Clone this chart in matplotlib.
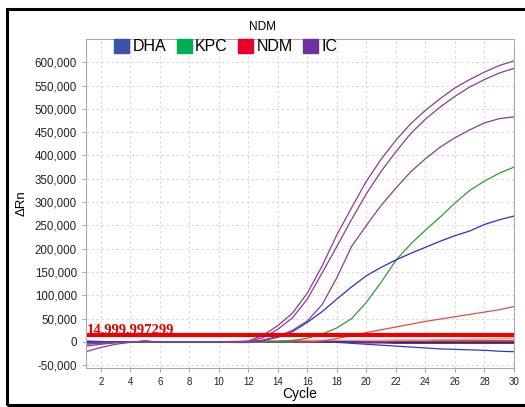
import matplotlib.pyplot as plt
from matplotlib.patches import Patch, Rectangle
from matplotlib.ticker import FuncFormatter
import numpy as np

plt.rcParams['font.family'] = ['Liberation Sans', 'DejaVu Sans']

cycles = np.arange(1, 31)

# IC curves (purple)
ic_1 = [-21000, -12000, -5000, -1000, 1000, 0, 0, 0, 0, 0, 0, 2000, 14000, 35000, 62000,
        105000, 163000, 230000, 288000, 345000, 392000, 433000, 468000, 497000, 522000,
        545000, 563000, 579000, 593000, 603000]
ic_2 = [-9000, -5000, -2000, 0, 1000, 0, 0, 0, 0, 0, 0, 1000, 9000, 27000, 52000,
        92000, 148000, 205000, 263000, 318000, 366000, 408000, 447000, 478000, 504000,
        527000, 547000, 563000, 577000, 587000]
ic_3 = [-5000, -3000, -1000, 0, 0, 0, 0, 0, 0, 0, 0, 0, 4000, 12000, 25000,
        45000, 80000, 138000, 205000, 250000, 293000, 330000, 365000, 393000, 418000,
        438000, 455000, 470000, 479000, 483000]
ic_4 = [-3000, -1000, 0, 0, 1000, 0, 0, 0, 0, 0, -1000, -1000, 0, 0, 0,
        0, 0, 0, -1000, -2000, -2000, -3000, -3000, -3000, -3000,
        -3000, -3000, -3000, -3000, -3000]

# DHA curves (blue)
dha_1 = [0, 0, 0, 0, 1000, 0, 0, 0, 0, 0, 0, 0, 3000, 10000, 22000,
         42000, 65000, 92000, 118000, 142000, 160000, 176000, 190000, 203000, 216000,
         228000, 238000, 252000, 262000, 270000]
dha_2 = [2000, 1000, 0, 0, 1000, 0, 0, 0, 0, 0, 0, 0, 0, 0, 0,
         0, 0, -1000, -3000, -5000, -7000, -9000, -11000, -13000, -15000,
         -16000, -17000, -18000, -20000, -21000]
dha_3 = [0, 0, 0, 0, 1000, 0, 0, 0, 0, 0, 0, 0, 0, 0, 0,
         0, 0, 0, 0, -1000, -1000, -1000, -1000, -1000, -1000,
         -1000, -1000, -1000, -1000, -1000]

# KPC curves (green)
kpc_1 = [0, 0, 0, 0, 1000, 0, 0, 0, 0, 0, 0, 0, 0, 1000, 3000,
         8000, 17000, 30000, 50000, 85000, 128000, 175000, 210000, 240000, 268000,
         298000, 325000, 345000, 362000, 375000]
kpc_2 = [0, 0, 0, 0, 1000, 0, 0, 0, 0, 0, 1000, 1000, 2000, 2000, 3000,
         3000, 3000, 3000, 3000, 3000, 3000, 3000, 3000, 3000, 3000,
         3000, 3000, 3000, 3000, 3000]

# NDM curves (red)
ndm_1 = [-4000, -2000, -1000, 0, 1000, 0, 0, 0, 0, 0, 0, 0, 0, 0, 0,
         0, 2000, 7000, 14000, 20000, 26000, 32000, 38000, 44000, 49000,
         54000, 59000, 64000, 69000, 76000]
ndm_2 = [-2000, -1000, 0, 0, 1000, 0, 0, 0, 0, 0, -1000, -1000, 0, 0, 0,
         0, 0, 0, 0, 0, 0, 0, 0, 0, 0,
         0, 0, 0, 0, 0]
ndm_3 = [-3000, -1000, 0, 0, 1000, 0, 0, 0, 0, 0, 0, 0, 0, 1000, 1000,
         2000, 2000, 2000, 3000, 3000, 3000, 4000, 4000, 4000, 5000,
         5000, 6000, 6000, 7000, 8000]

threshold = 14999.997299
legend_names = ["DHA", "KPC", "NDM", "IC"]
legend_colors = ["#3a55a6", "#00b050", "#e8002a", "#7030a0"]

fig = plt.figure(figsize=(5.25, 4.07), dpi=100)
ax = fig.add_axes([0.1638, 0.0958, 0.8152, 0.8084])

ax.plot(cycles, kpc_2, color="#b0621e", lw=1.0)
ax.plot(cycles, ndm_3, color="#f09a9a", lw=1.0)
ax.plot(cycles, ndm_2, color="#e03030", lw=1.0)
ax.plot(cycles, dha_3, color="#1a1a70", lw=1.0)
ax.plot(cycles, ic_4, color="#7a2a8a", lw=1.0)
ax.plot(cycles, dha_2, color="#2a3ad0", lw=0.9)
ax.plot(cycles, ndm_1, color="#e84a4a", lw=0.9)
ax.plot(cycles, kpc_1, color="#2f9a3a", lw=0.9)
ax.plot(cycles, dha_1, color="#2233cc", lw=0.9)
ax.plot(cycles, ic_3, color="#8e3a98", lw=0.9)
ax.plot(cycles, ic_2, color="#8e3a98", lw=0.9)
ax.plot(cycles, ic_1, color="#8e3a98", lw=0.9)

ax.axhline(threshold, color="#ee0000", lw=3)
ax.text(1.05, threshold + 3500, "14,999.997299", color="#dd0000", fontsize=10.5,
        fontweight="bold", family="Liberation Serif", va="baseline", ha="left")

ax.set_xlim(1, 30)
ax.set_ylim(-56000, 650000)
ax.set_xticks(np.arange(2, 31, 2))
ax.set_yticks(np.arange(-50000, 600001, 50000))
ax.yaxis.set_major_formatter(FuncFormatter(lambda v, p: f"{int(v):,}"))
ax.grid(True, color="#d4d4d4", linestyle=(0, (3, 3)), lw=0.6)
ax.tick_params(axis="y", labelsize=8.3, length=3, width=0.6, color="#999999")
ax.tick_params(axis="x", labelsize=7, length=3, width=0.6, color="#999999")
for tl in ax.get_xticklabels() + ax.get_yticklabels():
    tl.set_color("#222222")
for s in ax.spines.values():
    s.set_color("#aaaaaa")
    s.set_linewidth(0.8)

ax.set_xlabel("Cycle", fontsize=10, labelpad=0)
ax.set_ylabel("ΔRn", fontsize=9.5, labelpad=5)
fig.text(0.5, 0.934, "NDM", ha="center", va="center", fontsize=8.5)

handles = [Patch(facecolor=c, edgecolor=c) for c in legend_colors]
ax.legend(handles, legend_names, loc="upper left", bbox_to_anchor=(0.066, 1.0), ncol=4,
          frameon=False, fontsize=11.5, handlelength=0.95, handleheight=0.95,
          handletextpad=0.2, columnspacing=0.65, borderaxespad=0.0, borderpad=0.0)

fig.add_artist(Rectangle((0.013, 0.006), 1.2, 0.971, transform=fig.transFigure,
                         fill=False, lw=2.2, edgecolor="black"))

fig.savefig("out.png", dpi=100)
